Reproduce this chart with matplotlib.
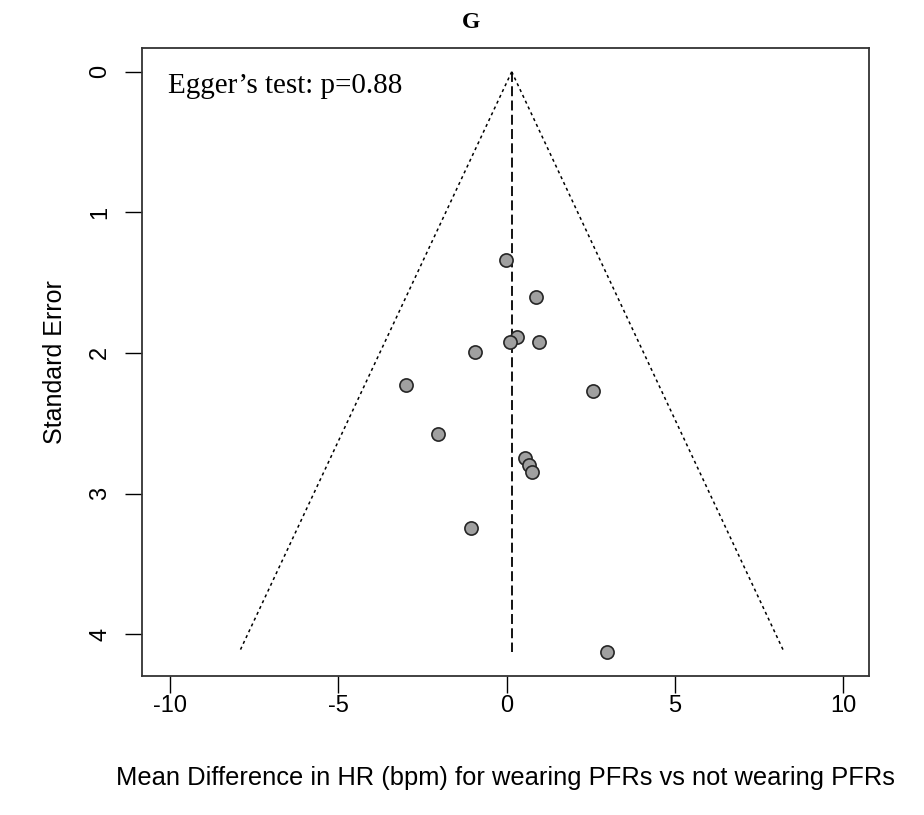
import matplotlib
matplotlib.use("Agg")
import matplotlib.pyplot as plt
import numpy as np

# study effects (mean difference in HR, bpm) and their standard errors
effect = [-0.03, 0.86, 0.30, 0.09, 0.97, -0.94, -3.00, 2.55,
          -2.03, 0.54, 0.66, 0.75, -1.05, 2.99]
se = [1.34, 1.60, 1.885, 1.92, 1.92, 1.996, 2.23, 2.27,
      2.577, 2.75, 2.80, 2.85, 3.245, 4.125]
pooled = 0.15
egger_p = 0.88

x_ticks = [-10, -5, 0, 5, 10]
y_ticks = [0, 1, 2, 3, 4]

SANS = "Liberation Sans"
SERIF = "Liberation Serif"

fig = plt.figure(figsize=(9.24, 8.15), dpi=100)
ax = fig.add_axes([141.7 / 924, 139 / 815, 727.6 / 924, 628 / 815])

# pseudo 95% confidence funnel around the pooled estimate
se_max = max(se)
se_line = np.array([0.0, se_max])
for sign in (-1, 1):
    ax.plot(pooled + sign * 1.96 * se_line, se_line, color="black", lw=1.1,
            linestyle=(0, (2.0, 2.2)))
ax.plot([pooled, pooled], [0, se_max], color="black", lw=1.3,
        linestyle=(0, (5.5, 2.4)))

ax.scatter(effect, se, s=90, facecolor="#a0a0a0", edgecolor="#262626",
           linewidth=1.2, zorder=3)

ax.set_xlim(-10.84, 10.77)
ax.set_ylim(4.298, -0.169)
ax.set_xticks(x_ticks)
ax.set_yticks(y_ticks)
ax.set_xticklabels([str(v) for v in x_ticks], family=SANS, fontsize=17)
ax.set_yticklabels([str(v) for v in y_ticks], family=SANS, fontsize=17,
                   rotation=90, va="center")
ax.tick_params(axis="x", length=12, width=1.0, pad=2, colors="black")
ax.tick_params(axis="y", length=12, width=1.0, pad=10, colors="black")
for sp in ax.spines.values():
    sp.set_linewidth(1.3)
    sp.set_color("#333333")

ax_mid = (141.7 + 727.6 / 2) / 924
fig.text(ax_mid, 1 - 778 / 815,
         "Mean Difference in HR (bpm) for wearing PFRs vs not wearing PFRs",
         family=SANS, fontsize=18.4, ha="center", va="center")
fig.text(55 / 924, (139 + 628 / 2) / 815, "Standard Error", family=SANS,
         fontsize=18, rotation=90, ha="center", va="center")

fig.text(471 / 924, 1 - 22 / 815, "G", family=SERIF, fontweight="bold",
         fontsize=17, ha="center", va="center")
fig.text(168 / 924, 1 - 93 / 815, f"Egger\u2019s test: p={egger_p:.2f}",
         family=SERIF, fontsize=21, ha="left", va="baseline")

fig.savefig("out.png", dpi=100)
